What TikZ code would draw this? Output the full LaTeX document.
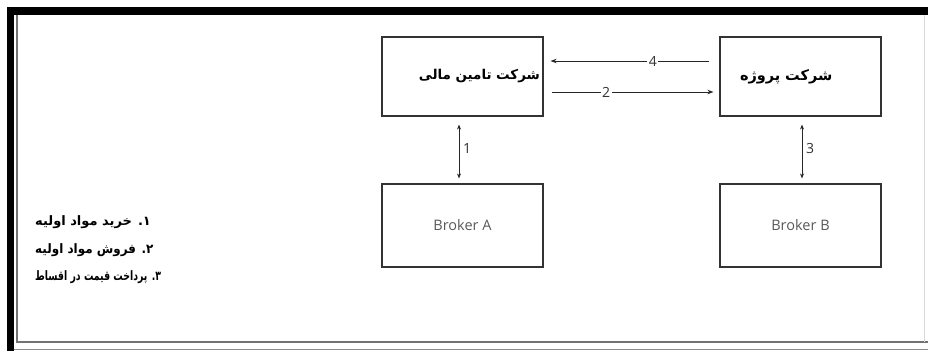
\documentclass[tikz,border=0pt]{standalone}
\usepackage{fontspec}
\setmainfont{Open Sans}
\newfontfamily\farsi[Script=Arabic]{DejaVu Sans}
\TeXXeTstate=1
\usetikzlibrary{arrows.meta,calc}

\begin{document}
\begin{tikzpicture}[x=1pt,y=-1pt,
  box/.style={draw=black!80, line width=1.1pt, minimum width=161pt, minimum height=79pt, inner sep=0pt},
  brk/.style={box, minimum height=83pt, text=black!65, font=\fontsize{14.5}{17}\selectfont},
  fa/.style={font=\farsi\bfseries\fontsize{13.5}{16}\selectfont},
  num/.style={text=black!80, font=\fontsize{14}{16}\selectfont, inner sep=1.5pt},
  arr/.style={-{Stealth[length=6pt,width=4.5pt]}, line width=1pt, draw=black!85},
  dbl/.style={{Stealth[length=5pt,width=4pt]}-{Stealth[length=5pt,width=4pt]}, line width=1pt, draw=black!85},
  legend/.style={anchor=west, inner sep=0pt, font=\farsi\bfseries\fontsize{13}{15}\selectfont}
]
\useasboundingbox (0,0) rectangle (928,351);

% page frame: heavy black top and left rules, thin grey inner border
\fill[black] (7,7) rectangle (928,14.5);
\fill[black] (7,7) rectangle (13.5,351);
\draw[black!55, line width=1.6pt] (17,15) -- (17,342) -- (928,342);
\draw[black!45, line width=1pt] (13.5,349) -- (928,349);
\draw[black!15, line width=1pt] (924,15) -- (924,342);

% boxes
\node[box, fa, text width=155pt, inner xsep=3pt, align=right] (fin) at (462.5,76.5)
  {\beginR شرکت تامین مالی\endR};
\node[box, fa, font=\farsi\bfseries\fontsize{14.5}{16}\selectfont, text width=121pt, inner xsep=20pt, align=left] (proj) at (800.5,76.5)
  {\beginR شرکت پروژه\endR};
\node[brk] (brkA) at (462.5,225.5) {Broker A};
\node[brk] (brkB) at (800.5,225.5) {Broker B};

% flows between the companies
\draw[arr] ([shift={(-10,-15.5)}]proj.west) -- node[num, fill=white, pos=0.356] (l4) {4} ([shift={(7,-15.5)}]fin.east);
\draw[arr] ([shift={(8,15.5)}]fin.east) -- node[num, fill=white, pos=0.337] (l2) {2} ([shift={(-6,15.5)}]proj.west);

% links to the brokers
\draw[dbl] ([shift={(-3.5,8)}]fin.south) -- node[num, right=2pt, yshift=3pt] (l1) {1} ([shift={(-3.5,-5)}]brkA.north);
\draw[dbl] ([shift={(1.5,8)}]proj.south) -- node[num, right=2pt, yshift=3pt] (l3) {3} ([shift={(1.5,-5)}]brkB.north);

% legend
\node[legend] (leg1) at (35,222) {\beginR ۱. خرید مواد اولیه\endR};
\node[legend] (leg2) at (35,250) {\scalebox{0.92}[1]{\beginR ۲. فروش مواد اولیه\endR}};
\node[legend] (leg3) at (35,277) {\scalebox{0.72}[1]{\beginR ۳. پرداخت قیمت در اقساط\endR}};
\end{tikzpicture}
\end{document}
